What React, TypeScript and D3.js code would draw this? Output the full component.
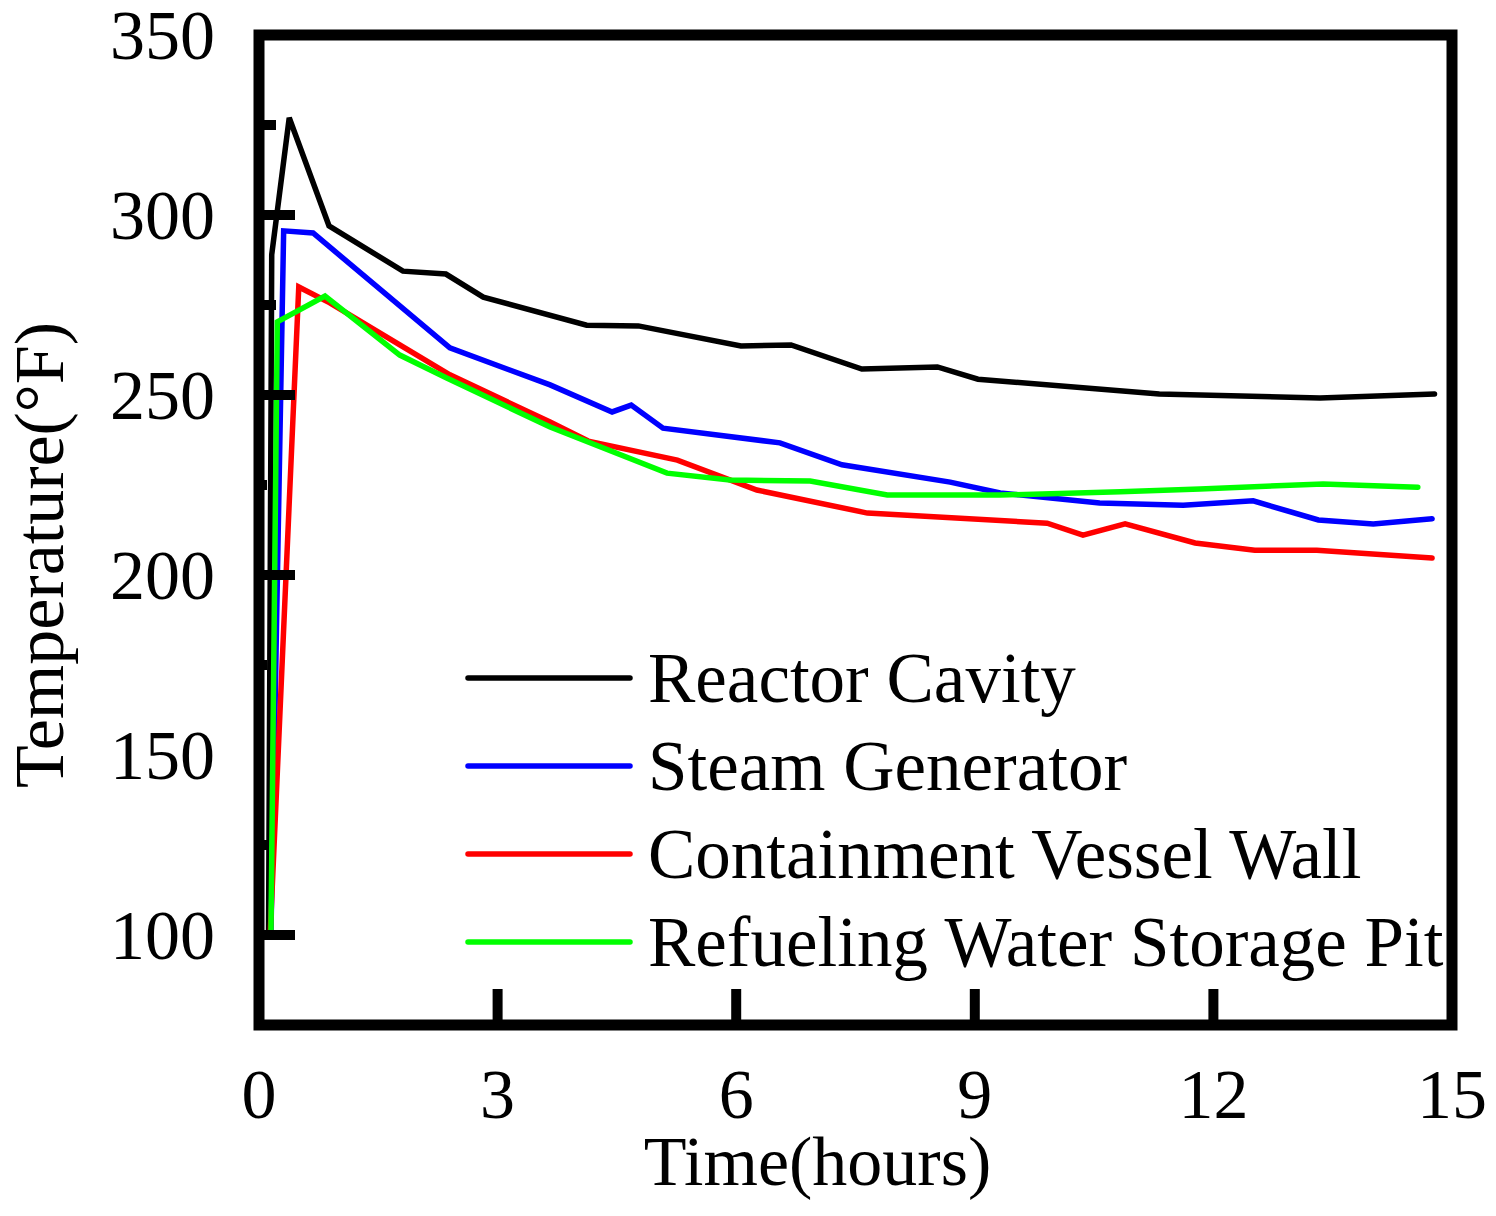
import React from 'react'
import * as d3 from 'd3'

// Reactor Cavity
const cavityTime = [0.12, 0.16, 0.38, 0.88, 1.81, 2.35, 2.82, 4.12, 4.77, 6.06, 6.69, 7.58, 8.53, 9.04, 11.32, 13.34, 14.78]
const cavityTemp = [100, 289, 327, 297, 284.4, 283.6, 277.2, 269.4, 269.2, 263.6, 263.9, 257.2, 257.8, 254.4, 250.3, 249.2, 250.3]

// Steam Generator
const steamTime = [0.15, 0.31, 0.68, 2.4, 3.66, 4.44, 4.68, 5.08, 6.55, 7.33, 8.69, 9.32, 10.57, 11.62, 12.5, 13.32, 14.01, 14.75]
const steamTemp = [100, 295.6, 295.0, 263.1, 252.8, 245.3, 247.2, 240.8, 236.7, 230.6, 225.8, 222.8, 220, 219.4, 220.6, 215.3, 214.2, 215.6]

// Containment Vessel Wall
const wallTime = [0.14, 0.5, 0.89, 1.77, 2.4, 3.66, 4.14, 5.26, 6.26, 7.65, 9.91, 10.36, 10.89, 11.77, 12.52, 13.3, 14.75]
const wallTemp = [100, 280, 275.6, 263.9, 255.6, 242.5, 237.2, 231.9, 223.6, 217.2, 214.4, 211.1, 214.2, 208.9, 206.9, 206.9, 204.7]

// Refueling Water Storage Pit
const pitTime = [0.15, 0.23, 0.83, 1.77, 2.36, 3.66, 5.13, 5.92, 6.93, 7.9, 9.32, 10.83, 11.83, 13.38, 14.57]
const pitTemp = [100, 270.3, 277.5, 261.1, 254.7, 241.1, 228.3, 226.4, 226.1, 222.2, 222.2, 223.1, 223.9, 225.3, 224.4]

const seriesNames = ['Reactor Cavity', 'Steam Generator', 'Containment Vessel Wall', 'Refueling Water Storage Pit']
const seriesColors = ['#000000', '#0000ff', '#ff0000', '#00ff00']

const xTickLabels = [0, 3, 6, 9, 12, 15]
const yTickLabels = [100, 150, 200, 250, 300, 350]
const yMajorTicks = [100, 200, 250, 300, 350]
const yMinorTicks = [275, 325]
const ySmallTicks = [125, 175, 225]

export default function App() {
  const W = 1496
  const H = 1216
  const margin = { top: 35, right: 44, bottom: 191, left: 259 }
  const innerW = W - margin.left - margin.right
  const innerH = H - margin.top - margin.bottom

  const x = d3.scaleLinear().domain([0, 15]).range([0, innerW])
  const y = d3.scaleLinear().domain([75, 350]).range([innerH, 0])

  const series = [
    cavityTime.map((t, i) => [t, cavityTemp[i]] as [number, number]),
    steamTime.map((t, i) => [t, steamTemp[i]] as [number, number]),
    wallTime.map((t, i) => [t, wallTemp[i]] as [number, number]),
    pitTime.map((t, i) => [t, pitTemp[i]] as [number, number]),
  ]

  const line = d3.line<[number, number]>()
    .x(d => x(d[0]))
    .y(d => y(d[1]))

  const font = '"Liberation Serif", "Times New Roman", serif'
  const fs = 70

  // legend placement
  const legX1 = 468 - margin.left
  const legX2 = 630 - margin.left
  const legY0 = 678 - margin.top
  const legStep = 88

  return (
    <svg width={W} height={H} style={{ position: 'absolute', left: 0, top: 0, background: '#fff' }}
      fontFamily={font}>
      <g transform={`translate(${margin.left},${margin.top})`}>
        {/* data lines */}
        {series.map((s, i) => (
          <path key={i} d={line(s) || ''} fill="none" stroke={seriesColors[i]}
            strokeWidth={5.5} strokeLinejoin="miter" strokeLinecap="round" />
        ))}

        {/* y ticks */}
        {yMajorTicks.map(v => (
          <line key={'ym' + v} x1={0} x2={36} y1={y(v)} y2={y(v)} stroke="#000" strokeWidth={10} />
        ))}
        {yMinorTicks.map(v => (
          <line key={'yn' + v} x1={0} x2={17} y1={y(v)} y2={y(v)} stroke="#000" strokeWidth={10} />
        ))}
        {ySmallTicks.map(v => (
          <line key={'ys' + v} x1={0} x2={8} y1={y(v)} y2={y(v)} stroke="#000" strokeWidth={10} />
        ))}

        {/* x ticks */}
        {xTickLabels.slice(1, -1).map(v => (
          <line key={'xt' + v} x1={x(v)} x2={x(v)} y1={innerH} y2={innerH - 36} stroke="#000" strokeWidth={10} />
        ))}

        {/* frame */}
        <rect x={0} y={0} width={innerW} height={innerH} fill="none" stroke="#000" strokeWidth={11} />

        {/* tick labels */}
        {yTickLabels.map(v => (
          <text key={'yl' + v} x={-44} y={y(v)} dy="0.34em" textAnchor="end" fontSize={fs}>{v}</text>
        ))}
        {xTickLabels.map(v => (
          <text key={'xl' + v} x={x(v)} y={innerH + 93} textAnchor="middle" fontSize={fs}>{v}</text>
        ))}

        {/* axis titles */}
        <text x={innerW / 2 - 38} y={innerH + 160} textAnchor="middle" fontSize={fs}>Time(hours)</text>
        <text transform={`translate(${-196},${555 - margin.top}) rotate(-90)`} textAnchor="middle" fontSize={fs}>
          Temperature(°F)
        </text>

        {/* legend */}
        {seriesNames.map((name, i) => (
          <g key={name} transform={`translate(0,${legY0 + i * legStep})`}>
            <line x1={legX1} x2={legX2} y1={0} y2={0} stroke={seriesColors[i]} strokeWidth={5.5} strokeLinecap="round" />
            <text x={legX2 + 18} y={24} fontSize={71}>{name}</text>
          </g>
        ))}
      </g>
    </svg>
  )
}
